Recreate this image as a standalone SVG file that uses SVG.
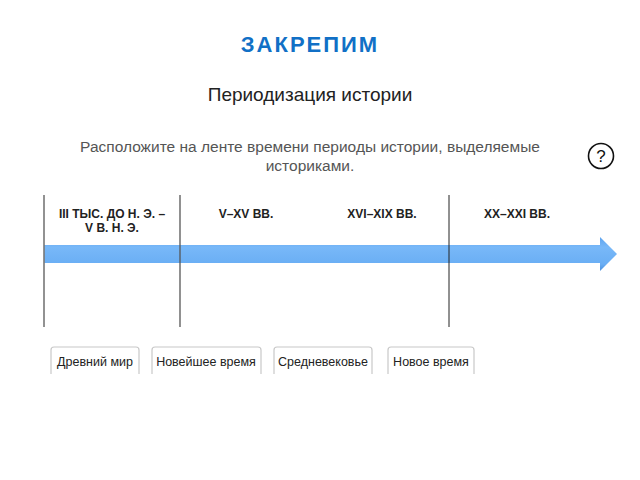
<svg xmlns="http://www.w3.org/2000/svg" width="640" height="480" viewBox="0 0 640 480">
<defs>
<linearGradient id="ag" x1="0" y1="0" x2="0" y2="1">
<stop offset="0" stop-color="#5da3ee"/>
<stop offset="0.3" stop-color="#78b8f8"/>
<stop offset="0.8" stop-color="#6aaef4"/>
<stop offset="1" stop-color="#4b8fdc"/>
</linearGradient>
<style>
.t{font-family:"Liberation Sans",Arial,sans-serif}
.h{font-family:"Liberation Sans",Arial,sans-serif;font-weight:bold;font-size:12px;fill:#222;text-anchor:middle}
.card{fill:#fff;stroke:#c8c8c8;stroke-width:1.2}
.ct{font-family:"Liberation Sans",Arial,sans-serif;font-size:12.5px;fill:#222;text-anchor:middle}
</style>
</defs>
<rect width="640" height="480" fill="#fff"/>
<text class="t" x="310" y="52" text-anchor="middle" font-size="22" font-weight="bold" letter-spacing="2" fill="#1170c6">ЗАКРЕПИМ</text>
<text class="t" x="310" y="101" text-anchor="middle" font-size="19" fill="#222">Периодизация истории</text>
<text class="t" x="310" y="152" text-anchor="middle" font-size="15.5" fill="#555">Расположите на ленте времени периоды истории, выделяемые</text>
<text class="t" x="310" y="171" text-anchor="middle" font-size="15.5" fill="#555">историками.</text>
<g id="help">
<circle cx="601" cy="156" r="12.5" fill="none" stroke="#111" stroke-width="1.6"/>
<text class="t" x="601" y="162" text-anchor="middle" font-size="17" fill="#111">?</text>
</g>
<g id="connectors">
<path d="M44,245 H600 V237 L617,254 L600,271 V263 H44 Z" fill="url(#ag)"/>
<line x1="44" y1="195" x2="44" y2="327" stroke="#777" stroke-width="1.6"/>
<line x1="180" y1="195" x2="180" y2="327" stroke="#555" stroke-width="1.3"/>
<line x1="449" y1="195" x2="449" y2="327" stroke="#222" stroke-width="1"/>
</g>
<g id="p1"><text class="h" x="112" y="218">III ТЫС. ДО Н. Э. –</text><text class="h" x="112" y="232">V В. Н. Э.</text></g>
<g id="p2"><text class="h" x="246" y="218">V–XV ВВ.</text></g>
<g id="p3"><text class="h" x="382" y="218">XVI–XIX ВВ.</text></g>
<g id="p4"><text class="h" x="517" y="218">XX–XXI ВВ.</text></g>
<g id="c1"><path class="card" d="M51,374 V350 Q51,347 54,347 H136 Q139,347 139,350 V374"/><text class="ct" x="95" y="366">Древний мир</text></g>
<g id="c2"><path class="card" d="M152,374 V350 Q152,347 155,347 H258 Q261,347 261,350 V374"/><text class="ct" x="206" y="366">Новейшее время</text></g>
<g id="c3"><path class="card" d="M274,374 V350 Q274,347 277,347 H369 Q372,347 372,350 V374"/><text class="ct" x="323" y="366">Средневековье</text></g>
<g id="c4"><path class="card" d="M388,374 V350 Q388,347 391,347 H471 Q474,347 474,350 V374"/><text class="ct" x="431" y="366">Новое время</text></g>
</svg>
